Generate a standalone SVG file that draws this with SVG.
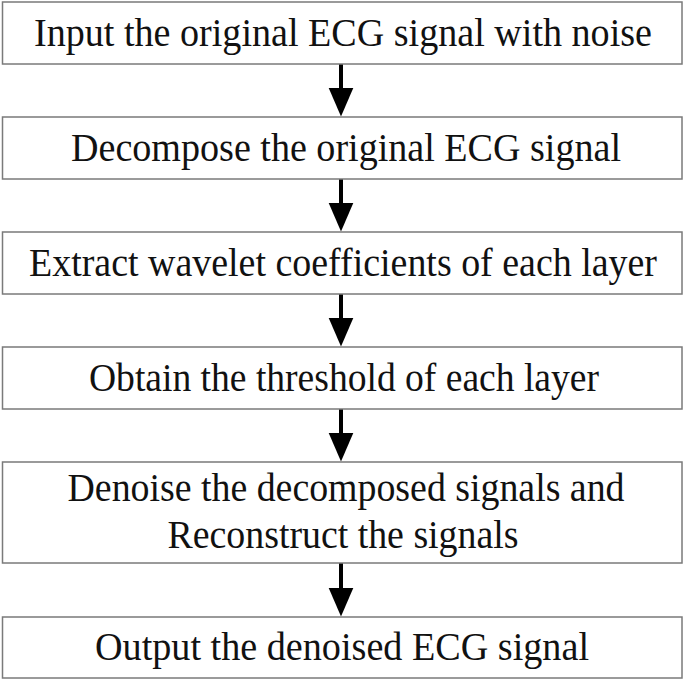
<svg xmlns="http://www.w3.org/2000/svg" width="685" height="681" viewBox="0 0 685 681">
<style>
.box{fill:#ffffff;stroke:#7a7a7a;stroke-width:1.5}
.lbl{font-family:"Liberation Serif","Times New Roman",serif;font-size:40px;fill:#111111;text-anchor:middle}
.conn{stroke:#000000;stroke-width:4;fill:none}
</style>
<defs>
<marker id="ah" markerUnits="userSpaceOnUse" markerWidth="30" markerHeight="26" viewBox="0 0 30 26" refX="0.5" refY="13" orient="auto">
<path d="M0,0.5 L29,13 L0,25.5 Z" fill="#000000"/>
</marker>
</defs>
<rect width="685" height="681" fill="#ffffff"/>
<g id="connectors">
<path class="conn" d="M341,64 V88" marker-end="url(#ah)"/>
<path class="conn" d="M341,179 V203" marker-end="url(#ah)"/>
<path class="conn" d="M341,294 V318" marker-end="url(#ah)"/>
<path class="conn" d="M341,409 V433" marker-end="url(#ah)"/>
<path class="conn" d="M341,563 V588" marker-end="url(#ah)"/>
</g>
<g id="n1">
<rect class="box" x="2.5" y="2" width="679.5" height="62"/>
<text class="lbl" x="343" y="46" textLength="618" lengthAdjust="spacingAndGlyphs">Input the original ECG signal with noise</text>
</g>
<g id="n2">
<rect class="box" x="2.5" y="117" width="679.5" height="62"/>
<text class="lbl" x="346" y="161" textLength="550" lengthAdjust="spacingAndGlyphs">Decompose the original ECG signal</text>
</g>
<g id="n3">
<rect class="box" x="2.5" y="232" width="679.5" height="62"/>
<text class="lbl" x="343" y="276" textLength="628" lengthAdjust="spacingAndGlyphs">Extract wavelet coefficients of each layer</text>
</g>
<g id="n4">
<rect class="box" x="2.5" y="347" width="679.5" height="62"/>
<text class="lbl" x="344" y="391" textLength="510" lengthAdjust="spacingAndGlyphs">Obtain the threshold of each layer</text>
</g>
<g id="n5">
<rect class="box" x="2.5" y="462" width="679.5" height="101"/>
<text class="lbl" x="346" y="501" textLength="557" lengthAdjust="spacingAndGlyphs">Denoise the decomposed signals and</text>
<text class="lbl" x="343" y="548" textLength="351" lengthAdjust="spacingAndGlyphs">Reconstruct the signals</text>
</g>
<g id="n6">
<rect class="box" x="2.5" y="617" width="679.5" height="61"/>
<text class="lbl" x="342" y="660" textLength="494" lengthAdjust="spacingAndGlyphs">Output the denoised ECG signal</text>
</g>
</svg>
